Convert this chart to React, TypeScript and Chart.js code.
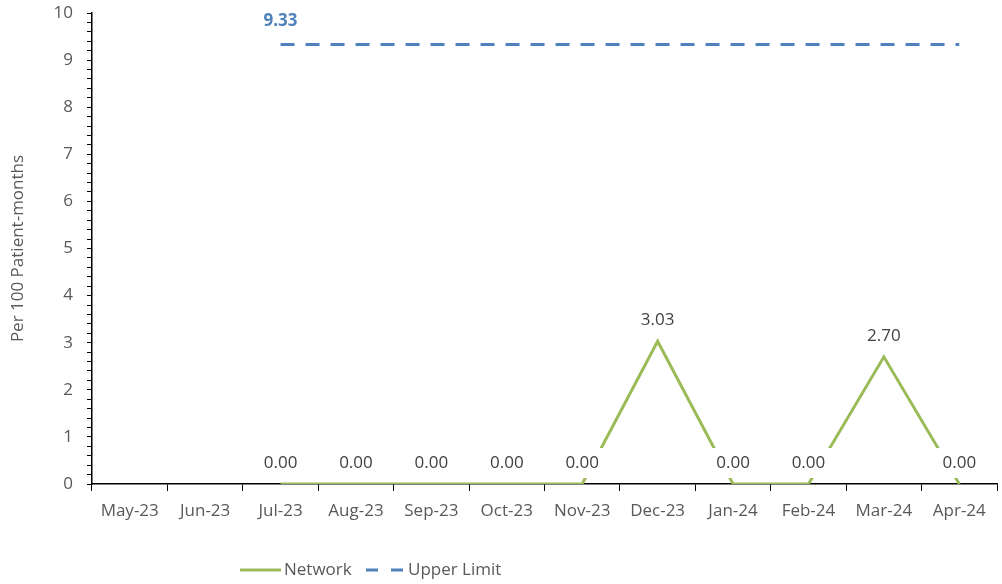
import React, { useEffect, useRef } from "react";
import { Chart, registerables } from "chart.js";

Chart.register(...registerables);

const categories = ["May-23", "Jun-23", "Jul-23", "Aug-23", "Sep-23", "Oct-23", "Nov-23", "Dec-23", "Jan-24", "Feb-24", "Mar-24", "Apr-24"];
const networkValues: (number | null)[] = [null, null, 0, 0, 0, 0, 0, 3.03, 0, 0, 2.7, 0];
const upperLimitValues: (number | null)[] = [null, null, 9.33, 9.33, 9.33, 9.33, 9.33, 9.33, 9.33, 9.33, 9.33, 9.33];
const yTickLabels = [0, 1, 2, 3, 4, 5, 6, 7, 8, 9, 10];

const GREEN = "#9BBB59";
const BLUE = "#4F81BD";
const TEXT = "#595959";
const FONT = "'Open Sans', 'Noto Sans', sans-serif";

const labelPlugin = {
  id: "labels",
  afterDatasetsDraw(chart: any) {
    const ctx = chart.ctx;
    ctx.save();
    const metaN = chart.getDatasetMeta(0);
    ctx.font = `17px ${FONT}`;
    ctx.textAlign = "center";
    ctx.textBaseline = "middle";
    metaN.data.forEach((pt: any, i: number) => {
      const v = networkValues[i];
      if (v === null || v === undefined) return;
      const txt = v.toFixed(2);
      const cy = pt.y - 21;
      const w = ctx.measureText(txt).width + 12;
      ctx.fillStyle = "#ffffff";
      ctx.fillRect(pt.x - w / 2, cy - 15, w, 30);
      ctx.fillStyle = "#404040";
      ctx.fillText(txt, pt.x, cy);
    });
    const metaU = chart.getDatasetMeta(1);
    const idx = upperLimitValues.findIndex((v) => v !== null);
    if (idx >= 0) {
      const pt = metaU.data[idx];
      ctx.font = `bold 17px ${FONT}`;
      ctx.fillStyle = BLUE;
      ctx.fillText((upperLimitValues[idx] as number).toFixed(2), pt.x, pt.y - 23);
    }
    ctx.restore();
  },
  afterDraw(chart: any) {
    const ctx = chart.ctx;
    ctx.save();
    const y = 570;
    ctx.font = `17px ${FONT}`;
    ctx.textBaseline = "middle";
    ctx.textAlign = "left";
    ctx.lineWidth = 3;
    ctx.strokeStyle = GREEN;
    ctx.beginPath();
    ctx.moveTo(240, y);
    ctx.lineTo(281, y);
    ctx.stroke();
    ctx.fillStyle = TEXT;
    ctx.fillText("Network", 284, y);
    ctx.strokeStyle = BLUE;
    ctx.setLineDash([12, 13]);
    ctx.beginPath();
    ctx.moveTo(366, y);
    ctx.lineTo(404, y);
    ctx.stroke();
    ctx.setLineDash([]);
    ctx.fillText("Upper Limit", 408, y);
    ctx.restore();
  },
};

export default function App() {
  const ref = useRef<HTMLCanvasElement | null>(null);
  useEffect(() => {
    if (!ref.current) return;
    const chart = new Chart(ref.current, {
      type: "line",
      data: {
        labels: categories,
        datasets: [
          {
            label: "Network",
            data: networkValues,
            borderColor: GREEN,
            backgroundColor: GREEN,
            borderWidth: 3,
            pointRadius: 0,
            tension: 0,
            spanGaps: false,
          },
          {
            label: "Upper Limit",
            data: upperLimitValues,
            borderColor: BLUE,
            backgroundColor: BLUE,
            borderWidth: 3,
            borderDash: [14, 11],
            pointRadius: 0,
            tension: 0,
          },
        ],
      },
      options: {
        animation: false,
        responsive: false,
        devicePixelRatio: 1,
        layout: { padding: { top: 0, right: 5, left: 0, bottom: 0 } },
        plugins: { legend: { display: false }, tooltip: { enabled: false } },
        scales: {
          x: {
            offset: true,
            grid: { offset: true, drawOnChartArea: false, tickLength: 7, color: "#000000", tickColor: "#000000" },
            border: { color: "#000000", width: 1.5 },
            ticks: { color: TEXT, font: { family: FONT, size: 17 }, padding: 10, maxRotation: 0, autoSkip: false },
            afterFit: (s: any) => { s.height = 100; },
          },
          y: {
            min: 0,
            max: 10,
            grid: { drawOnChartArea: false, tickLength: 5, color: "#000000", tickColor: "#000000" },
            border: { color: "#000000", width: 1.5 },
            ticks: {
              stepSize: 0.2,
              autoSkip: false,
              color: TEXT,
              padding: 14,
              font: { family: FONT, size: 17 },
              callback: (v: any) => {
                const n = Math.round(Number(v) * 1000) / 1000;
                return yTickLabels.includes(n) ? String(n) : "";
              },
            },
            title: { display: true, text: "Per 100 Patient-months", color: TEXT, font: { family: FONT, size: 17 }, padding: { top: 8, bottom: 0 } },
            afterFit: (s: any) => { s.width = 92; s.paddingTop = 13; s.paddingBottom = 0; },
          },
        },
      },
      plugins: [labelPlugin],
    });
    return () => chart.destroy();
  }, []);
  return (
    <div style={{ position: "absolute", left: 0, top: 0, width: 1002, height: 584, background: "#fff" }}>
      <canvas ref={ref} width={1002} height={584} style={{ width: 1002, height: 584 }} />
    </div>
  );
}
